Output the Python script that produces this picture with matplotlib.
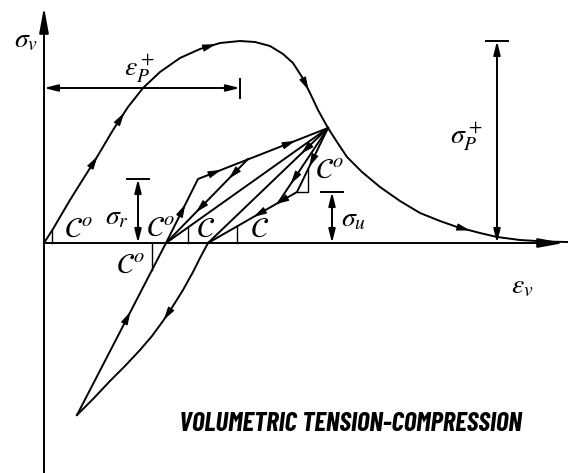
import numpy as np
import matplotlib.pyplot as plt

plt.rcParams['mathtext.fontset'] = 'stix'

# monotonic envelope (volumetric strain / stress, arbitrary units)
env_eps = [0, 9, 16, 26, 36, 53, 69, 84, 99, 116, 136, 156, 176, 196, 211, 226, 239, 249,
           258, 266, 274, 284, 293, 303, 318, 336, 356, 376, 396, 413, 436, 453, 476, 501, 523]
env_sig = [0, 14, 26, 43, 59, 86, 113, 136, 155, 171, 185, 194, 200, 202, 201, 197, 189, 180,
           166, 150, 133, 115, 101, 86, 71, 56, 42, 30, 22, 16, 10, 6, 3, 1.5, 1]

# unloading point on the softening branch
unl_eps, unl_sig = 284, 115

# residual / unloading stress levels
sig_r = 64
sig_u = 51

# reloading path from the compression tip (stiffness C0 then C)
reload_eps = [33, 122, 154, unl_eps]
reload_sig = [-172, 0, sig_r, unl_sig]

# partial unloading from the reloading branch
branch_eps = [204, 122]
branch_sig = [84, 0]

# secant unloading lines
secant1_eps = [unl_eps, 122]
secant1_sig = [unl_sig, 0]
secant2_eps = [unl_eps, 164]
secant2_sig = [unl_sig, 0]

# unloading with C0 then C
unload_eps = [unl_eps, 253, 164]
unload_sig = [unl_sig, sig_u, 0]
unload_br_eps = [unl_eps, 234]
unload_br_sig = [unl_sig, 40]

# compression branch down to the tip
comp_eps = [164, 156, 149, 139, 129, 119, 108, 96, 81, 66, 50, 33]
comp_sig = [0, -15, -29, -47, -63, -78, -93, -107, -123, -138, -155, -172]

LW = 1.4


def head(ax, x0, y0, x1, y1, frac=0.55, ms=10):
    # arrow head placed on a segment, pointing from (x0, y0) to (x1, y1)
    xm = x0 + (x1 - x0) * frac
    ym = y0 + (y1 - y0) * frac
    d = np.hypot(x1 - x0, y1 - y0)
    ux, uy = (x1 - x0) / d, (y1 - y0) / d
    ax.annotate('', xy=(xm + 4 * ux, ym + 4 * uy), xytext=(xm - 4 * ux, ym - 4 * uy),
                arrowprops=dict(arrowstyle='-|>,head_length=0.8,head_width=0.22', color='k',
                                lw=0.8, shrinkA=0, shrinkB=0, mutation_scale=ms))


def dim_v(ax, x, y0, y1, tick=11):
    ax.annotate('', xy=(x, y1), xytext=(x, y0),
                arrowprops=dict(arrowstyle='<|-|>,head_length=0.8,head_width=0.2', color='k',
                                lw=LW, shrinkA=0, shrinkB=0, mutation_scale=10))
    ax.plot([x - tick, x + tick], [y1, y1], color='k', lw=LW)


fig = plt.figure(figsize=(5.68, 4.73), dpi=100)
ax = fig.add_axes([0, 0, 1, 1])
ax.set_xlim(-44, 524)
ax.set_ylim(-230, 243)
ax.axis('off')

# axes
ax.annotate('', xy=(0, 236), xytext=(0, -232),
            arrowprops=dict(arrowstyle='-|>,head_length=1.1,head_width=0.2', color='k',
                            lw=LW, shrinkA=0, shrinkB=0, mutation_scale=14))
ax.annotate('', xy=(520, 0), xytext=(0, 0),
            arrowprops=dict(arrowstyle='-|>,head_length=1.1,head_width=0.2', color='k',
                            lw=LW, shrinkA=0, shrinkB=0, mutation_scale=14))

# envelope
ax.plot(env_eps, env_sig, color='k', lw=LW)
for i, f in [(4, 0.9), (6, 0.6), (11, 0.6), (18, 0.6), (29, 0.4)]:
    head(ax, env_eps[i], env_sig[i], env_eps[i + 1], env_sig[i + 1], frac=f)

# cyclic paths
for xs, ys in [(reload_eps, reload_sig), (branch_eps, branch_sig),
               (secant1_eps, secant1_sig), (secant2_eps, secant2_sig),
               (unload_eps, unload_sig), (unload_br_eps, unload_br_sig),
               (comp_eps, comp_sig)]:
    ax.plot(xs, ys, color='k', lw=LW)

head(ax, reload_eps[0], reload_sig[0], reload_eps[1], reload_sig[1], frac=0.58)
head(ax, reload_eps[1], reload_sig[1], reload_eps[2], reload_sig[2], frac=0.55)
head(ax, reload_eps[2], reload_sig[2], reload_eps[3], reload_sig[3], frac=0.15)
head(ax, reload_eps[2], reload_sig[2], reload_eps[3], reload_sig[3], frac=0.72)
head(ax, branch_eps[0], branch_sig[0], branch_eps[1], branch_sig[1], frac=0.2)
head(ax, branch_eps[0], branch_sig[0], branch_eps[1], branch_sig[1], frac=0.6)
head(ax, secant2_eps[0], secant2_sig[0], secant2_eps[1], secant2_sig[1], frac=0.2)
head(ax, unload_eps[0], unload_sig[0], unload_eps[1], unload_sig[1], frac=0.55)
head(ax, unload_eps[1], unload_sig[1], unload_eps[2], unload_sig[2], frac=0.45)
head(ax, unload_eps[1], unload_sig[1], unload_eps[2], unload_sig[2], frac=0.2)
head(ax, unload_br_eps[0], unload_br_sig[0], unload_br_eps[1], unload_br_sig[1], frac=0.7)
head(ax, comp_eps[4], comp_sig[4], comp_eps[5], comp_sig[5], frac=0.7)

# slope triangles
x_t = 8
ax.plot([x_t, x_t], [0, np.interp(x_t, env_eps, env_sig)], color='k', lw=1.0)
x_t = 108
ax.plot([x_t, x_t], [0, np.interp(x_t, reload_eps[:2], reload_sig[:2])], color='k', lw=1.0)
x_t = 144
ax.plot([x_t, x_t], [0, np.interp(x_t, secant1_eps[::-1], secant1_sig[::-1])], color='k', lw=1.0)
x_t = 193
ax.plot([x_t, x_t], [0, np.interp(x_t, unload_eps[::-1], unload_sig[::-1])], color='k', lw=1.0)
x_t = 264
ax.plot([unload_eps[1], x_t, x_t], [unload_sig[1], unload_sig[1],
        np.interp(x_t, unload_eps[1::-1], unload_sig[1::-1])], color='k', lw=1.0)

# dimensions
i_pk = int(np.argmax(env_sig))
eps_pk, sig_pk = env_eps[i_pk], env_sig[i_pk]
ax.annotate('', xy=(0, 155), xytext=(eps_pk, 155),
            arrowprops=dict(arrowstyle='<|-|>,head_length=0.8,head_width=0.2', color='k',
                            lw=LW, shrinkA=0, shrinkB=0, mutation_scale=10))
ax.plot([eps_pk, eps_pk], [145, 164], color='k', lw=LW)
dim_v(ax, 453, 0, sig_pk)
dim_v(ax, 94, 0, sig_r)
dim_v(ax, 288, 0, sig_u)

# labels
fs = 20
ax.text(-18, 204, r'$\sigma_v$', fontsize=fs, ha='center', va='center')
ax.text(96, 174, r'$\varepsilon_P^+$', fontsize=fs, ha='center', va='center')
ax.text(422, 106, r'$\sigma_P^+$', fontsize=fs, ha='center', va='center')
ax.text(73, 27, r'$\sigma_r$', fontsize=fs, ha='center', va='center')
ax.text(310, 25, r'$\sigma_u$', fontsize=fs, ha='center', va='center')
ax.text(478, -42, r'$\varepsilon_v$', fontsize=fs, ha='center', va='center')

fc = 21
ax.text(34, 14, r'$\mathcal{C}^o$', fontsize=fc, ha='center', va='center')
ax.text(116, 15, r'$\mathcal{C}^o$', fontsize=fc, ha='center', va='center')
ax.text(86, -22, r'$\mathcal{C}^o$', fontsize=fc, ha='center', va='center')
ax.text(162, 14, r'$\mathcal{C}$', fontsize=fc, ha='center', va='center')
ax.text(216, 14, r'$\mathcal{C}$', fontsize=fc, ha='center', va='center')
ax.text(285, 73, r'$\mathcal{C}^o$', fontsize=fc, ha='center', va='center')

ax.text(306, -181, 'VOLUMETRIC TENSION-COMPRESSION', fontsize=19.5, ha='center', va='center',
        family=['Barlow Condensed', 'DejaVu Sans'], weight='bold', style='italic')

fig.savefig('out.png', dpi=100)
